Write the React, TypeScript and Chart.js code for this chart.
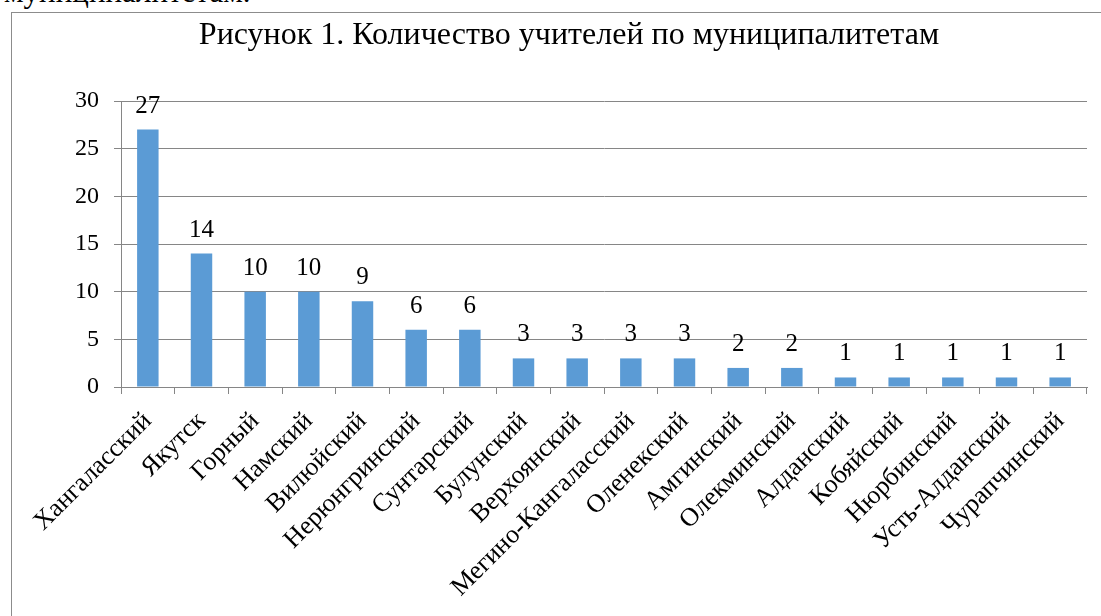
import React, { useEffect, useRef } from "react";
import { Chart, registerables } from "chart.js";

Chart.register(...registerables);

const titleText = "Рисунок 1. Количество учителей по муниципалитетам";
const headingTail = "муниципалитетам.";
const categories = [
  "Хангаласский",
  "Якутск",
  "Горный",
  "Намский",
  "Вилюйский",
  "Нерюнгринский",
  "Сунтарский",
  "Булунский",
  "Верхоянский",
  "Мегино-Кангаласский",
  "Оленекский",
  "Амгинский",
  "Олекминский",
  "Алданский",
  "Кобяйский",
  "Нюрбинский",
  "Усть-Алданский",
  "Чурапчинский",
];
const teachers = [27, 14, 10, 10, 9, 6, 6, 3, 3, 3, 3, 2, 2, 1, 1, 1, 1, 1];
const yTicks = [0, 5, 10, 15, 20, 25, 30];

const FONT = "'Liberation Serif', 'Times New Roman', serif";
const GRID = "#868686";

const valueLabels = {
  id: "valueLabels",
  afterDatasetsDraw(chart: any) {
    const ctx = chart.ctx;
    const meta = chart.getDatasetMeta(0);
    const data = chart.data.datasets[0].data;
    ctx.save();
    ctx.font = `25px ${FONT}`;
    ctx.fillStyle = "#000";
    ctx.textAlign = "center";
    ctx.textBaseline = "alphabetic";
    meta.data.forEach((bar: any, i: number) => {
      ctx.fillText(String(data[i]), bar.x, bar.y - 17);
    });
    ctx.restore();
  },
};

export default function App() {
  const ref = useRef<HTMLCanvasElement>(null);
  useEffect(() => {
    const chart = new Chart(ref.current!, {
      type: "bar",
      data: {
        labels: categories,
        datasets: [
          {
            data: teachers,
            backgroundColor: "#5B9BD5",
            borderWidth: 0,
            barPercentage: 0.4,
            categoryPercentage: 1,
          },
        ],
      },
      options: {
        responsive: false,
        animation: false,
        layout: { padding: { left: 51, right: 14, top: 0, bottom: 0 } },
        plugins: {
          legend: { display: false },
          tooltip: { enabled: false },
          title: {
            display: true,
            text: titleText,
            color: "#000",
            font: { family: FONT, size: 32, weight: "normal", lineHeight: 1.2 },
            padding: { top: 16, bottom: 46.6 },
          },
        },
        scales: {
          x: {
            afterFit(scale: any) {
              scale.height = 229;
            },
            grid: {
              offset: true,
              drawOnChartArea: false,
              drawTicks: true,
              tickLength: 7,
              color: GRID,
            },
            border: { display: true, color: GRID },
            ticks: {
              autoSkip: false,
              minRotation: 45,
              maxRotation: 45,
              padding: 12,
              color: "#000",
              font: { family: FONT, size: 26 },
            },
          },
          y: {
            min: yTicks[0],
            max: yTicks[yTicks.length - 1],
            afterFit(scale: any) {
              scale.width = 70;
            },
            afterBuildTicks(scale: any) {
              scale.ticks = yTicks.map((v) => ({ value: v }));
            },
            grid: { color: GRID, tickLength: 7 },
            border: { display: true, color: GRID },
            ticks: {
              padding: 15,
              color: "#000",
              font: { family: FONT, size: 24 },
            },
          },
        },
      },
      plugins: [valueLabels],
    });
    return () => chart.destroy();
  }, []);

  return (
    <div
      style={{
        position: "fixed",
        left: 0,
        top: 0,
        width: 1101,
        height: 616,
        overflow: "hidden",
        background: "#fff",
      }}
    >
      <div
        style={{
          position: "absolute",
          left: 4,
          top: -23,
          fontFamily: FONT,
          fontSize: 31,
          lineHeight: "30px",
          color: "#000",
          whiteSpace: "nowrap",
        }}
      >
        {headingTail}
      </div>
      <div
        style={{
          position: "absolute",
          left: 11,
          top: 12,
          width: 1100,
          height: 620,
          border: "1px solid #8c8c8c",
          boxSizing: "border-box",
          background: "#fff",
        }}
      />
      <canvas
        ref={ref}
        width={1101}
        height={616}
        style={{ position: "absolute", left: 0, top: 0, width: 1101, height: 616 }}
      />
    </div>
  );
}
